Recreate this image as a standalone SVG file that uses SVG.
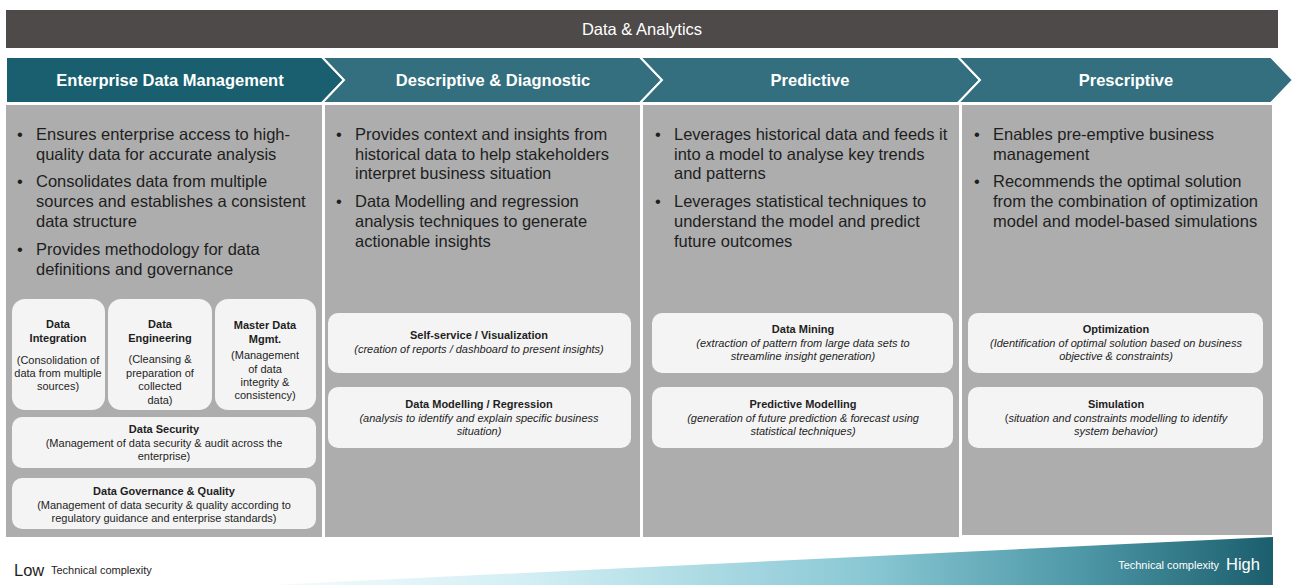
<svg xmlns="http://www.w3.org/2000/svg" width="1293" height="585" viewBox="0 0 1293 585">
  <defs>
    <linearGradient id="complexity" gradientUnits="userSpaceOnUse" x1="200" y1="0" x2="1273" y2="0">
      <stop offset="0" stop-color="#ffffff"/>
      <stop offset="0.3" stop-color="#d3eff5"/>
      <stop offset="0.62" stop-color="#8ac8d4"/>
      <stop offset="0.82" stop-color="#4e98a7"/>
      <stop offset="1" stop-color="#1b5e6d"/>
    </linearGradient>
  </defs>
  <style>
    text { font-family: "Liberation Sans", Arial, sans-serif; }
    .banner { fill: #4e4a49; }
    .banner-t { fill: #ffffff; font-size: 16.5px; text-anchor: middle; }
    .chev { stroke: #ffffff; stroke-width: 2; stroke-linejoin: miter; }
    .chev-a { fill: #195f6f; }
    .chev-b { fill: #336f7e; }
    .chev-t { fill: #ffffff; font-size: 16.5px; font-weight: bold; text-anchor: middle; }
    .panel { fill: #adadad; }
    .bullet { fill: #1e1e1e; font-size: 16.5px; }
    .card { fill: #f4f4f4; }
    .ct { fill: #1e1e1e; font-size: 11px; text-anchor: middle; }
    .b { font-weight: bold; }
    .i { font-style: italic; }
    .low { fill: #1e1e1e; }
  </style>

  <!-- top banner -->
  <g id="banner">
    <rect class="banner" x="6" y="10" width="1272" height="38"/>
    <text class="banner-t" x="642" y="35">Data &amp; Analytics</text>
  </g>

  <!-- stage chevrons -->
  <g id="stage-edm">
    <polygon class="chev chev-a" points="6,57 322,57 344,80 322,103 6,103"/>
    <text class="chev-t" x="170" y="86">Enterprise Data Management</text>
  </g>
  <g id="stage-descriptive">
    <polygon class="chev chev-b" points="322,57 640,57 662,80 640,103 322,103 344,80"/>
    <text class="chev-t" x="493" y="86">Descriptive &amp; Diagnostic</text>
  </g>
  <g id="stage-predictive">
    <polygon class="chev chev-b" points="640,57 958,57 980,80 958,103 640,103 662,80"/>
    <text class="chev-t" x="810" y="86">Predictive</text>
  </g>
  <g id="stage-prescriptive">
    <polygon class="chev chev-b" points="958,57 1271,57 1293,80 1271,103 958,103 980,80"/>
    <text class="chev-t" x="1126" y="86">Prescriptive</text>
  </g>

  <!-- panel 1: enterprise data management -->
  <g id="panel-edm">
    <rect class="panel" x="6" y="105" width="316" height="432"/>
    <text class="bullet" x="17" y="140">•</text>
    <text class="bullet" x="36" y="140">Ensures enterprise access to high-</text>
    <text class="bullet" x="36" y="160">quality data for accurate analysis</text>
    <text class="bullet" x="17" y="187">•</text>
    <text class="bullet" x="36" y="187">Consolidates data from multiple</text>
    <text class="bullet" x="36" y="207">sources and establishes a consistent</text>
    <text class="bullet" x="36" y="227">data structure</text>
    <text class="bullet" x="17" y="255">•</text>
    <text class="bullet" x="36" y="255">Provides methodology for data</text>
    <text class="bullet" x="36" y="275">definitions and governance</text>
  </g>
  <g id="card-integration">
    <rect class="card" x="12" y="299" width="93" height="111" rx="13"/>
    <text class="ct b" x="58" y="328">Data</text>
    <text class="ct b" x="58" y="342">Integration</text>
    <text class="ct" x="58" y="364">(Consolidation of</text>
    <text class="ct" x="58" y="377">data from multiple</text>
    <text class="ct" x="58" y="390">sources)</text>
  </g>
  <g id="card-engineering">
    <rect class="card" x="108" y="299" width="104" height="111" rx="13"/>
    <text class="ct b" x="160" y="328">Data</text>
    <text class="ct b" x="160" y="342">Engineering</text>
    <text class="ct" x="160" y="363">(Cleansing &amp;</text>
    <text class="ct" x="160" y="377">preparation of</text>
    <text class="ct" x="160" y="390">collected</text>
    <text class="ct" x="160" y="404">data)</text>
  </g>
  <g id="card-mdm">
    <rect class="card" x="215" y="299" width="101" height="111" rx="13"/>
    <text class="ct b" x="265" y="329">Master Data</text>
    <text class="ct b" x="265" y="343">Mgmt.</text>
    <text class="ct" x="265" y="359">(Management</text>
    <text class="ct" x="265" y="373">of data</text>
    <text class="ct" x="265" y="386">integrity &amp;</text>
    <text class="ct" x="265" y="399">consistency)</text>
  </g>
  <g id="card-security">
    <rect class="card" x="12" y="417" width="304" height="51" rx="10"/>
    <text class="ct b" x="164" y="433">Data Security</text>
    <text class="ct" x="164" y="447">(Management of data security &amp; audit across the</text>
    <text class="ct" x="164" y="460">enterprise)</text>
  </g>
  <g id="card-governance">
    <rect class="card" x="12" y="478" width="304" height="51" rx="10"/>
    <text class="ct b" x="164" y="495">Data Governance &amp; Quality</text>
    <text class="ct" x="164" y="509">(Management of data security &amp; quality according to</text>
    <text class="ct" x="164" y="522">regulatory guidance and enterprise standards)</text>
  </g>

  <!-- panel 2: descriptive & diagnostic -->
  <g id="panel-descriptive">
    <rect class="panel" x="325" y="105" width="315" height="432"/>
    <text class="bullet" x="336" y="140">•</text>
    <text class="bullet" x="355" y="140">Provides context and insights from</text>
    <text class="bullet" x="355" y="160">historical data to help stakeholders</text>
    <text class="bullet" x="355" y="179">interpret business situation</text>
    <text class="bullet" x="336" y="207">•</text>
    <text class="bullet" x="355" y="207">Data Modelling and regression</text>
    <text class="bullet" x="355" y="227">analysis techniques to generate</text>
    <text class="bullet" x="355" y="247">actionable insights</text>
  </g>
  <g id="card-selfservice">
    <rect class="card" x="328" y="313" width="303" height="60" rx="10"/>
    <text class="ct b" x="479" y="339">Self-service / Visualization</text>
    <text class="ct i" x="479" y="353">(creation of reports / dashboard to present insights)</text>
  </g>
  <g id="card-regression">
    <rect class="card" x="328" y="387" width="303" height="61" rx="10"/>
    <text class="ct b" x="479" y="408">Data Modelling / Regression</text>
    <text class="ct i" x="479" y="422">(analysis to identify and explain specific business</text>
    <text class="ct i" x="479" y="435">situation)</text>
  </g>

  <!-- panel 3: predictive -->
  <g id="panel-predictive">
    <rect class="panel" x="643" y="105" width="316" height="432"/>
    <text class="bullet" x="655" y="140">•</text>
    <text class="bullet" x="674" y="140">Leverages historical data and feeds it</text>
    <text class="bullet" x="674" y="160">into a model to analyse key trends</text>
    <text class="bullet" x="674" y="179">and patterns</text>
    <text class="bullet" x="655" y="207">•</text>
    <text class="bullet" x="674" y="207">Leverages statistical techniques to</text>
    <text class="bullet" x="674" y="227">understand the model and predict</text>
    <text class="bullet" x="674" y="247">future outcomes</text>
  </g>
  <g id="card-mining">
    <rect class="card" x="652" y="313" width="301" height="60" rx="10"/>
    <text class="ct b" x="803" y="333">Data Mining</text>
    <text class="ct i" x="803" y="347">(extraction of pattern from large data sets to</text>
    <text class="ct i" x="803" y="360">streamline insight generation)</text>
  </g>
  <g id="card-predictive-modelling">
    <rect class="card" x="652" y="387" width="301" height="61" rx="10"/>
    <text class="ct b" x="803" y="408">Predictive Modelling</text>
    <text class="ct i" x="803" y="422">(generation of future prediction &amp; forecast using</text>
    <text class="ct i" x="803" y="435">statistical techniques)</text>
  </g>

  <!-- panel 4: prescriptive -->
  <g id="panel-prescriptive">
    <rect class="panel" x="962" y="105" width="310" height="430"/>
    <text class="bullet" x="974" y="140">•</text>
    <text class="bullet" x="993" y="140">Enables pre-emptive business</text>
    <text class="bullet" x="993" y="160">management</text>
    <text class="bullet" x="974" y="187">•</text>
    <text class="bullet" x="993" y="187">Recommends the optimal solution</text>
    <text class="bullet" x="993" y="207">from the combination of optimization</text>
    <text class="bullet" x="993" y="227">model and model-based simulations</text>
  </g>
  <g id="card-optimization">
    <rect class="card" x="968" y="313" width="295" height="60" rx="10"/>
    <text class="ct b" x="1116" y="333">Optimization</text>
    <text class="ct i" x="1116" y="347">(Identification of optimal solution based on business</text>
    <text class="ct i" x="1116" y="360">objective &amp; constraints)</text>
  </g>
  <g id="card-simulation">
    <rect class="card" x="968" y="387" width="295" height="61" rx="10"/>
    <text class="ct b" x="1116" y="408">Simulation</text>
    <text class="ct" x="1116" y="422">(<tspan class="i">situation and constraints modelling to identify</tspan></text>
    <text class="ct i" x="1116" y="435">system behavior)</text>
  </g>

  <g id="connectors"/>

  <!-- technical complexity wedge -->
  <g id="complexity-scale">
    <polygon points="0,598 1273,537 1273,585 0,585" fill="url(#complexity)"/>
    <text class="low" x="14" y="576" font-size="16.5">Low</text>
    <text class="low" x="51" y="574" font-size="11">Technical complexity</text>
    <text x="1219" y="569" font-size="11" fill="#ffffff" text-anchor="end">Technical complexity</text>
    <text x="1226" y="570" font-size="16.5" fill="#ffffff">High</text>
  </g>
</svg>
